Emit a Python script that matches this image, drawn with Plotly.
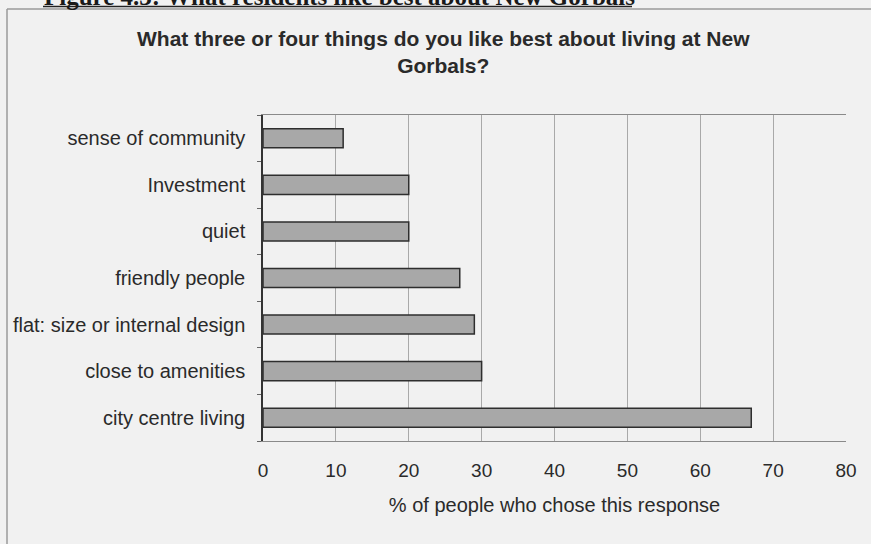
import plotly.graph_objects as go

# Survey responses, listed from the bottom bar upwards
categories = [
    "city centre living",
    "close to amenities",
    "flat: size or internal design",
    "friendly people",
    "quiet",
    "Investment",
    "sense of community",
]
percent = [67, 30, 29, 27, 20, 20, 11]
x_ticks = [0, 10, 20, 30, 40, 50, 60, 70, 80]

W, H = 871, 544
L, R, T, B = 263, 25, 115, 103
PW, PH = W - L - R, H - T - B


def px_x(px):
    return (px - L) / PW


def px_y(py):
    return (H - B - py) / PH


BG = "#f1f1f1"
TXT = "#2a2a2a"
SANS = "Liberation Sans, Arial, sans-serif"

fig = go.Figure(
    go.Bar(
        x=percent,
        y=categories,
        orientation="h",
        marker=dict(color="#a8a8a8", line=dict(color="#2e2e2e", width=1.5)),
        hoverinfo="x+y",
    )
)

fig.update_layout(
    width=W,
    height=H,
    margin=dict(l=L, r=R, t=T, b=B, autoexpand=False),
    paper_bgcolor=BG,
    plot_bgcolor=BG,
    bargap=0.59,
    showlegend=False,
    font=dict(family=SANS, size=20, color=TXT),
    xaxis=dict(
        range=[0, 80],
        tickvals=x_ticks,
        ticks="",
        ticklabelstandoff=12,
        tickfont=dict(size=19),
        showgrid=True,
        gridcolor="#a9a9a9",
        gridwidth=1,
        zeroline=False,
        showline=True,
        linecolor="#8a8a8a",
        linewidth=1,
        mirror=True,
        title=dict(text="% of people who chose this response", standoff=18,
                   font=dict(size=20, color=TXT)),
    ),
    yaxis=dict(
        categoryorder="array",
        categoryarray=categories,
        ticks="outside",
        tickson="boundaries",
        ticklen=4,
        tickcolor="#666666",
        ticklabelstandoff=12,
        tickfont=dict(size=20),
        showgrid=False,
        showline=True,
        linecolor="#333333",
        linewidth=1.5,
    ),
)

# Chart title (two lines, bold)
fig.add_annotation(
    text="<b>What three or four things do you like best about living at New<br>Gorbals?</b>",
    xref="paper", yref="paper",
    x=px_x(443), y=px_y(52),
    xanchor="center", yanchor="middle",
    showarrow=False,
    align="center",
    font=dict(family=SANS, size=21, color=TXT),
)

# Figure caption above the chart frame
fig.add_annotation(
    text="<b>Figure 4.3: What residents like best about New Gorbals</b>",
    xref="paper", yref="paper",
    x=px_x(43), y=px_y(11),
    xanchor="left", yanchor="bottom",
    showarrow=False, borderpad=0,
    font=dict(family="Liberation Serif, Times New Roman, serif", size=25, color="#1a1a1a"),
)

# Caption underline and chart frame
fig.add_shape(type="line", xref="paper", yref="paper",
              x0=px_x(43), x1=px_x(632), y0=px_y(6.5), y1=px_y(6.5),
              line=dict(color="#222222", width=1.5))
fig.add_shape(type="line", xref="paper", yref="paper",
              x0=px_x(7), x1=px_x(W + 5), y0=px_y(9), y1=px_y(9),
              line=dict(color="#9a9a9a", width=1.5))
fig.add_shape(type="line", xref="paper", yref="paper",
              x0=px_x(7), x1=px_x(7), y0=px_y(9), y1=px_y(H + 5),
              line=dict(color="#9a9a9a", width=1.5))

fig.write_html("out.html")
